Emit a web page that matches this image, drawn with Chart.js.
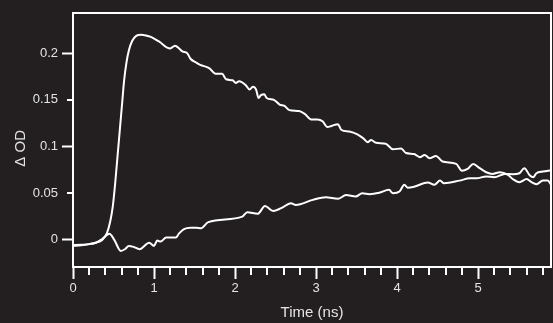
<!DOCTYPE html>
<html lang="en">
<head>
    <meta charset="UTF-8">
    <title>Transient absorption</title>
    <script src="https://cdn.jsdelivr.net/npm/chart.js"></script>
    <style>
        html, body { margin: 0; padding: 0; background: #231f20; }
        #wrap { width: 553px; height: 323px; }
    </style>
</head>
<body>
    <div id="wrap"><canvas id="myChart" width="553" height="323"></canvas></div>

    <script>
        // time axis (ns) and Delta OD values
        const timeA = [0, 0.1, 0.2, 0.28, 0.36, 0.42, 0.46, 0.49, 0.52, 0.55, 0.58, 0.61, 0.63, 0.66, 0.69, 0.73, 0.78, 0.84, 0.9, 0.96,
            1.06, 1.2, 1.26, 1.31, 1.35, 1.41, 1.45, 1.52, 1.57, 1.68, 1.76, 1.84, 1.89, 1.97, 2.01, 2.05, 2.13, 2.18, 2.22, 2.26,
            2.29, 2.32, 2.36, 2.39, 2.48, 2.55, 2.61, 2.67, 2.79, 2.86, 2.94, 3.02, 3.08, 3.14, 3.19, 3.27, 3.31, 3.41, 3.51, 3.58,
            3.64, 3.68, 3.74, 3.86, 3.95, 4.05, 4.11, 4.21, 4.28, 4.34, 4.4, 4.48, 4.56, 4.73, 4.8, 4.87, 4.94, 5.02, 5.1, 5.18,
            5.27, 5.37, 5.43, 5.51, 5.6, 5.66, 5.72, 5.8, 5.86, 5.9];
        const odA = [-0.0055, -0.0052, -0.0045, -0.003, 0.0, 0.0075, 0.02, 0.035, 0.06, 0.09, 0.12, 0.15, 0.17, 0.19, 0.203, 0.213, 0.2185, 0.2197, 0.219, 0.2175,
            0.2125, 0.205, 0.208, 0.205, 0.2018, 0.2, 0.194, 0.19, 0.1875, 0.184, 0.178, 0.178, 0.172, 0.171, 0.168, 0.17, 0.166, 0.161, 0.164, 0.161,
            0.152, 0.155, 0.156, 0.152, 0.15, 0.145, 0.1435, 0.139, 0.138, 0.135, 0.129, 0.129, 0.127, 0.121, 0.122, 0.124, 0.118, 0.116, 0.113, 0.109,
            0.1047, 0.107, 0.104, 0.103, 0.097, 0.098, 0.093, 0.092, 0.0886, 0.091, 0.0875, 0.09, 0.084, 0.0814, 0.074, 0.076, 0.0814, 0.0768, 0.0725, 0.0707,
            0.0725, 0.0696, 0.065, 0.0618, 0.0653, 0.0618, 0.0597, 0.0635, 0.0635, 0.059];

        const timeB = [0, 0.1, 0.2, 0.28, 0.36, 0.45, 0.51, 0.59, 0.64, 0.69, 0.75, 0.82, 0.94, 1.0, 1.04, 1.08, 1.15, 1.27, 1.31, 1.37,
            1.45, 1.52, 1.58, 1.67, 2.09, 2.15, 2.28, 2.37, 2.47, 2.57, 2.69, 2.75, 2.96, 3.12, 3.27, 3.37, 3.49, 3.57, 3.66, 3.78,
            3.9, 3.95, 4.03, 4.09, 4.13, 4.21, 4.38, 4.46, 4.53, 4.58, 4.77, 4.9, 4.98, 5.1, 5.2, 5.33, 5.43, 5.51, 5.57, 5.64,
            5.68, 5.72, 5.8, 5.9];
        const odB = [-0.0065, -0.0058, -0.0045, -0.003, 0.001, 0.0065, 0.0, -0.0118, -0.01, -0.0064, -0.0075, -0.01, -0.003, -0.0064, -0.0007, -0.0018, 0.0025, 0.0025, 0.007, 0.0115,
            0.013, 0.013, 0.0125, 0.019, 0.025, 0.0296, 0.0279, 0.0364, 0.031, 0.034, 0.0393, 0.0375, 0.0429, 0.0457, 0.044, 0.048, 0.0464, 0.05, 0.049, 0.0505,
            0.0536, 0.05, 0.0518, 0.059, 0.056, 0.057, 0.0614, 0.059, 0.0635, 0.0607, 0.0635, 0.066, 0.066, 0.068, 0.0672, 0.0707, 0.0704, 0.0714, 0.0768, 0.0689,
            0.0672, 0.0714, 0.0732, 0.0745];

        const xTicks = [0, 1, 2, 3, 4, 5];
        const xTickLabels = ['0', '1', '2', '3', '4', '5'];
        const yTicks = [0, 0.05, 0.1, 0.15, 0.2];
        const yTickLabels = ['0', '0.05', '0.1', '0.15', '0.2'];
        const yMajor = [0, 0.1, 0.2];

        const ink = '#ffffff';
        const textInk = '#e4e4e4';

        function toPoints(xs, ys) {
            return xs.map((x, i) => ({ x: x, y: ys[i] }));
        }

        // frame round the plot area plus the short minor ticks
        const framePlugin = {
            id: 'frame',
            beforeDraw(chart) {
                const c = chart.ctx;
                c.save();
                c.fillStyle = '#231f20';
                c.fillRect(0, 0, chart.width, chart.height);
                c.restore();
            },
            afterDraw(chart) {
                const c = chart.ctx;
                const a = chart.chartArea;
                const xs = chart.scales.x;
                const ys = chart.scales.y;
                c.save();
                c.strokeStyle = ink;
                c.lineWidth = 2;
                c.strokeRect(a.left, a.top, a.right - a.left, a.bottom - a.top);
                c.beginPath();
                for (let k = 1; k * 0.2 <= xs.max; k++) {
                    if (k % 5 === 0) continue;
                    const px = Math.round(xs.getPixelForValue(k * 0.2));
                    c.moveTo(px, a.bottom);
                    c.lineTo(px, a.bottom + 8);
                }
                yTicks.forEach(v => {
                    if (yMajor.includes(v)) return;
                    const py = Math.round(ys.getPixelForValue(v));
                    c.moveTo(a.left, py);
                    c.lineTo(a.left - 6, py);
                });
                c.stroke();
                c.restore();
            }
        };

        const ctx = document.getElementById('myChart').getContext('2d');
        const myChart = new Chart(ctx, {
            type: 'line',
            data: {
                datasets: [{
                    label: 'A',
                    data: toPoints(timeA, odA),
                    borderColor: ink,
                    borderWidth: 2,
                    pointRadius: 0,
                    cubicInterpolationMode: 'monotone'
                }, {
                    label: 'B',
                    data: toPoints(timeB, odB),
                    borderColor: ink,
                    borderWidth: 2,
                    pointRadius: 0,
                    cubicInterpolationMode: 'monotone'
                }]
            },
            options: {
                responsive: false,
                animation: false,
                layout: { padding: { top: 13, right: 2, left: 0, bottom: 0 } },
                plugins: {
                    legend: { display: false },
                    tooltip: { enabled: false }
                },
                scales: {
                    x: {
                        type: 'linear',
                        min: 0,
                        max: 5.9,
                        afterBuildTicks: s => { s.ticks = xTicks.map(v => ({ value: v })); },
                        afterFit: s => { s.height = 56; },
                        ticks: {
                            color: textInk,
                            font: { family: 'Liberation Sans, Arial', size: 13 },
                            padding: 2,
                            maxRotation: 0,
                            callback: v => xTickLabels[xTicks.indexOf(v)]
                        },
                        grid: {
                            drawOnChartArea: false,
                            drawTicks: true,
                            tickLength: 12,
                            tickColor: ink,
                            tickWidth: 2
                        },
                        border: { display: false },
                        title: {
                            display: true,
                            text: 'Time (ns)',
                            color: textInk,
                            font: { family: 'Liberation Sans, Arial', size: 15 },
                            padding: { top: 0, bottom: 1 }
                        }
                    },
                    y: {
                        type: 'linear',
                        min: -0.029,
                        max: 0.243,
                        afterBuildTicks: s => { s.ticks = yTicks.map(v => ({ value: v })); },
                        afterFit: s => { s.width = 73; },
                        ticks: {
                            color: textInk,
                            font: { family: 'Liberation Sans, Arial', size: 13 },
                            padding: 4,
                            callback: v => yTickLabels[yTicks.indexOf(v)]
                        },
                        grid: {
                            drawOnChartArea: false,
                            drawTicks: true,
                            tickLength: 11,
                            tickColor: c => (c.tick && yMajor.includes(c.tick.value)) ? ink : 'transparent',
                            tickWidth: 2
                        },
                        border: { display: false },
                        title: {
                            display: true,
                            text: 'Δ OD\u00a0\u00a0\u00a0\u00a0',
                            color: textInk,
                            font: { family: 'Liberation Sans, Arial', size: 15 },
                            padding: { top: 12, bottom: 0 }
                        }
                    }
                }
            },
            plugins: [framePlugin]
        });
    </script>
</body>
</html>
